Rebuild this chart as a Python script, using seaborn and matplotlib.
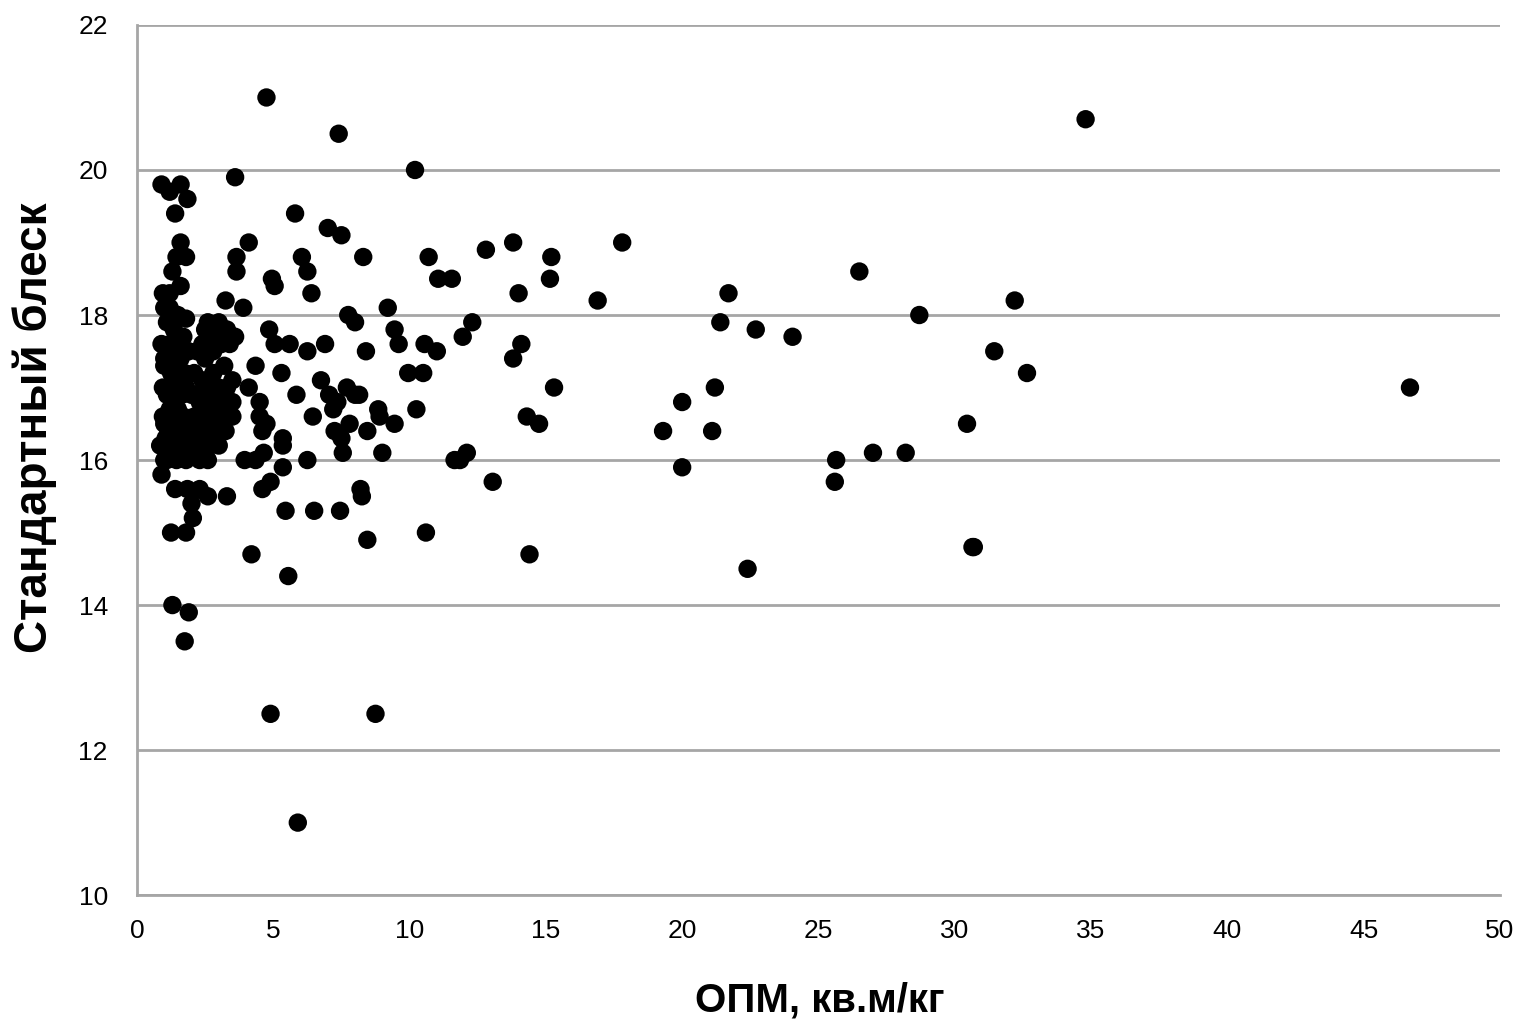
import pandas as pd
import matplotlib.pyplot as plt
import seaborn as sns

# (ОПМ, стандартный блеск) pairs
points_sparse = [
    (4.75, 21.0), (7.4, 20.5), (34.8, 20.7), (10.2, 20.0), (3.6, 19.9), (5.8, 19.4),
    (7.0, 19.2), (7.5, 19.1), (4.1, 19.0), (12.8, 18.9), (13.8, 19.0), (17.8, 19.0),
    (15.2, 18.8), (10.7, 18.8), (8.3, 18.8), (6.05, 18.8), (3.65, 18.8), (4.95, 18.5),
    (5.05, 18.4), (3.65, 18.6), (6.25, 18.6), (11.05, 18.5), (11.55, 18.5),
    (15.15, 18.5), (26.5, 18.6), (6.4, 18.3), (14.0, 18.3), (21.7, 18.3), (16.9, 18.2),
    (32.2, 18.2), (3.25, 18.2), (9.2, 18.1), (3.9, 18.1), (28.7, 18.0), (7.75, 18.0),
    (8.0, 17.9), (12.3, 17.9), (21.4, 17.9), (4.85, 17.8), (9.45, 17.8), (22.7, 17.8),
    (24.05, 17.7), (11.95, 17.7), (9.6, 17.6), (14.1, 17.6), (10.55, 17.6),
    (6.9, 17.6), (5.6, 17.6), (5.05, 17.6), (11.0, 17.5), (31.45, 17.5), (8.4, 17.5),
    (6.25, 17.5), (13.8, 17.4), (9.95, 17.2), (10.5, 17.2), (32.65, 17.2), (5.3, 17.2),
    (4.35, 17.3), (6.75, 17.1), (3.5, 17.1), (46.7, 17.0), (15.3, 17.0), (21.2, 17.0),
    (7.7, 17.0), (4.1, 17.0), (7.05, 16.9), (8.0, 16.9), (8.15, 16.9), (5.85, 16.9),
    (20.0, 16.8), (7.35, 16.8), (4.5, 16.8), (10.25, 16.7), (8.85, 16.7), (7.2, 16.7),
    (14.3, 16.6), (6.45, 16.6), (8.9, 16.6), (4.5, 16.6), (3.5, 16.6), (30.45, 16.5),
    (14.75, 16.5), (9.45, 16.5), (7.8, 16.5), (4.75, 16.5), (19.3, 16.4), (21.1, 16.4),
    (8.45, 16.4), (7.25, 16.4), (4.6, 16.4), (7.5, 16.3), (5.35, 16.3), (5.35, 16.2),
    (12.1, 16.1), (11.85, 16.0), (11.65, 16.0), (7.55, 16.1), (9.0, 16.1), (27.0, 16.1),
    (28.2, 16.1), (25.65, 16.0), (4.65, 16.1), (6.25, 16.0), (3.95, 16.0), (4.35, 16.0),
    (20.0, 15.9), (5.35, 15.9), (13.05, 15.7), (25.6, 15.7), (4.9, 15.7), (4.6, 15.6),
    (8.2, 15.6), (8.25, 15.5), (5.45, 15.3), (6.5, 15.3), (7.45, 15.3), (3.3, 15.5),
    (2.6, 15.5), (10.6, 15.0), (8.45, 14.9), (4.2, 14.7), (14.4, 14.7), (30.65, 14.8),
    (30.7, 14.8), (22.4, 14.5), (5.55, 14.4), (1.3, 14.0), (1.9, 13.9), (1.75, 13.5),
    (4.9, 12.5), (8.75, 12.5), (5.9, 11.0), (1.25, 15.0), (1.8, 15.0), (2.05, 15.2),
    (2.0, 15.4), (1.4, 15.6), (1.85, 15.6), (2.3, 15.6),
]

# dense cluster near the y axis
points_cluster = [
    (0.9, 19.8), (1.2, 19.7), (1.6, 19.8), (1.85, 19.6), (1.4, 19.4), (1.6, 19.0),
    (1.45, 18.8), (1.8, 18.8), (1.3, 18.6), (1.2, 18.3), (0.95, 18.3), (1.6, 18.4),
    (1.2, 18.1), (1.0, 18.1), (1.5, 18.0), (1.8, 17.95), (2.6, 17.9), (3.0, 17.9),
    (3.3, 17.8), (2.9, 17.7), (2.5, 17.8), (3.4, 17.6), (1.1, 17.9), (1.35, 17.8),
    (1.7, 17.7), (0.9, 17.6), (1.2, 17.6), (1.5, 17.6), (1.9, 17.5), (2.2, 17.5),
    (2.5, 17.4), (2.8, 17.5), (3.1, 17.6), (3.6, 17.7), (1.0, 17.4), (1.3, 17.4),
    (1.6, 17.4), (1.0, 17.3), (1.25, 17.2), (1.55, 17.2), (1.75, 17.2), (2.1, 17.2),
    (2.4, 17.1), (2.7, 17.0), (3.0, 17.0), (3.3, 17.0), (0.95, 17.0), (1.4, 17.0),
    (1.8, 17.0), (1.1, 16.9), (1.45, 16.9), (1.65, 16.9), (2.0, 16.9), (2.3, 16.8),
    (2.6, 16.8), (2.9, 16.8), (3.2, 16.8), (3.5, 16.8), (1.2, 16.7), (1.5, 16.7),
    (0.95, 16.6), (1.3, 16.6), (1.7, 16.6), (2.1, 16.6), (2.45, 16.6), (2.75, 16.6),
    (3.05, 16.6), (3.4, 16.6), (1.0, 16.5), (1.55, 16.5), (1.9, 16.5), (1.15, 16.4),
    (1.4, 16.4), (1.75, 16.4), (2.2, 16.4), (2.55, 16.4), (2.85, 16.4), (3.25, 16.4),
    (1.05, 16.3), (1.6, 16.3), (0.9, 16.2), (1.3, 16.2), (1.65, 16.2), (2.0, 16.2),
    (2.35, 16.2), (2.7, 16.2), (3.0, 16.2), (1.2, 16.1), (1.5, 16.1), (1.9, 16.1),
    (1.1, 16.0), (1.45, 16.0), (1.8, 16.0), (2.3, 16.0), (2.6, 16.0), (0.85, 16.2),
    (1.0, 16.0), (0.9, 15.8), (2.4, 17.6), (2.8, 17.2), (3.2, 17.3), (2.2, 16.9),
]

df = pd.DataFrame(points_sparse + points_cluster, columns=["opm", "blesk"])

sns.set_style("white")
plt.rcParams["font.family"] = ["Liberation Sans", "DejaVu Sans"]

fig = plt.figure(figsize=(15.22, 10.23), dpi=100)
ax = fig.add_axes([0.09, 0.125, 0.8955, 0.8506])
sns.scatterplot(data=df, x="opm", y="blesk", ax=ax, color="black",
                s=175, edgecolor="none", linewidth=0, zorder=3)

ax.set_xlim(0, 50)
ax.set_ylim(10, 22)
ax.set_xticks(range(0, 51, 5))
ax.set_yticks(range(10, 23, 2))
ax.yaxis.grid(True, color="#a6a6a6", linewidth=2)
ax.xaxis.grid(False)
ax.set_axisbelow(True)
for side in ["top", "right"]:
    ax.spines[side].set_visible(False)
for side in ["left", "bottom"]:
    ax.spines[side].set_color("#a6a6a6")
    ax.spines[side].set_linewidth(2)
ax.tick_params(axis="both", direction="out", length=7, width=2, color="#a6a6a6",
               labelsize=19, labelcolor="black")
ax.tick_params(axis="x", pad=10)
ax.tick_params(axis="y", pad=14)

ax.set_xlabel("ОПМ, кв.м/кг", fontsize=29, fontweight="bold", color="black", va="center")
ax.set_ylabel("Стандартный блеск", fontsize=33, fontweight="bold", color="black",
              va="center")
ax.xaxis.set_label_coords(0.501, -0.121)
ax.yaxis.set_label_coords(-0.075, 0.537)

fig.savefig("out.png", dpi=100)
